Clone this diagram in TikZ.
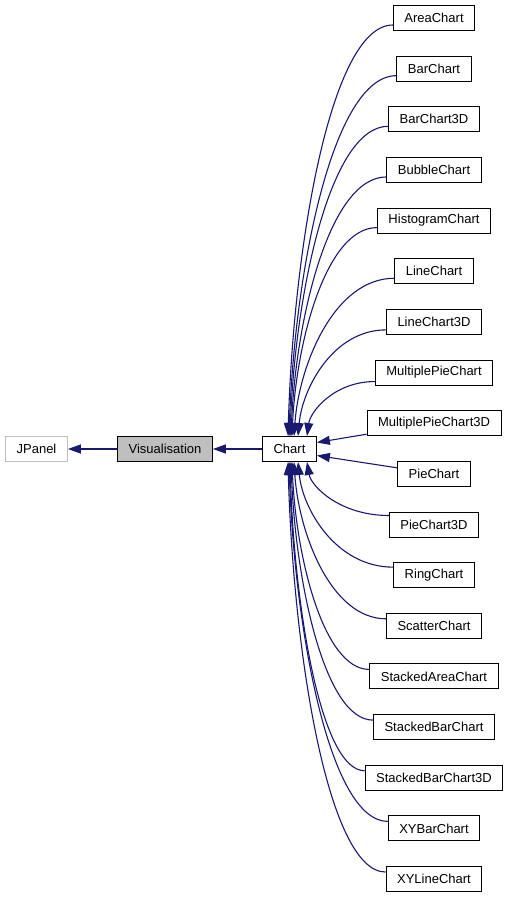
\documentclass[tikz,border=0pt]{standalone}
\usepackage{fontspec}
\setmainfont{Liberation Sans}
\usetikzlibrary{arrows.meta,calc}
\definecolor{edgeblue}{HTML}{191970}
\definecolor{boxgray}{HTML}{BFBFBF}
\newcommand\clsedge[4]{%
  \draw[edge] let \p1=([yshift=#3]#1.west), \p2=([xshift=#2]chart.#4) in
    (\p1) .. controls ({\x1-0.6*(\x1-\x2)},\y1) and ({\x2+0.05*(\x1-\x2)},{\y2+0.45*(\y1-\y2)}) .. (\p2);}
\begin{document}
\begin{tikzpicture}[x=1pt,y=1pt,
  cls/.style={draw=black,line width=1pt,minimum height=25pt,inner xsep=11pt,inner ysep=0pt,
    font=\fontsize{13}{15}\selectfont,fill=white},
  edge/.style={draw=edgeblue,line width=1.1pt,-{Triangle[length=13pt,width=9pt]}},
]
\useasboundingbox (0,0) rectangle (509,-899);
\node[cls,draw=boxgray] (jpanel) at (36.5,-449) {JPanel};
\node[cls,fill=boxgray] (vis) at (165,-449) {Visualisation};
\node[cls] (chart) at (289.5,-449) {Chart};
\foreach \n/\t [count=\i from 0] in {area/AreaChart,bar/BarChart,bar3d/BarChart3D,bubble/BubbleChart,
  hist/HistogramChart,line/LineChart,line3d/LineChart3D,mpc/MultiplePieChart,mpc3d/MultiplePieChart3D,
  pie/PieChart,pie3d/PieChart3D,ring/RingChart,scatter/ScatterChart,sarea/StackedAreaChart,
  sbar/StackedBarChart,sbar3d/StackedBarChart3D,xybar/XYBarChart,xyline/XYLineChart}
  \node[cls] (\n) at (434,{-18-50.65*\i}) {\t};
\draw[edge] (vis.west) -- (jpanel.east);
\draw[edge] (chart.west) -- (vis.east);
\clsedge{area}{-1.5pt}{-7pt}{north}
\clsedge{bar}{-0.5pt}{-7pt}{north}
\clsedge{bar3d}{0.5pt}{-7pt}{north}
\clsedge{bubble}{1.5pt}{-7pt}{north}
\clsedge{hist}{2.5pt}{-7pt}{north}
\clsedge{line}{4.5pt}{-7pt}{north}
\clsedge{line3d}{8.5pt}{-8pt}{north}
\clsedge{mpc}{17.5pt}{-9pt}{north}
\draw[edge] ([yshift=2pt]mpc3d.south west) -- ([yshift=6.5pt]chart.east);
\draw[edge] ([yshift=6pt]pie.west) -- ([yshift=-6.5pt]chart.east);
\clsedge{pie3d}{17.5pt}{9pt}{south}
\clsedge{ring}{8.5pt}{8pt}{south}
\clsedge{scatter}{4.5pt}{7pt}{south}
\clsedge{sarea}{2.5pt}{7pt}{south}
\clsedge{sbar}{1.5pt}{7pt}{south}
\clsedge{sbar3d}{0.5pt}{7pt}{south}
\clsedge{xybar}{-0.5pt}{7pt}{south}
\clsedge{xyline}{-1.5pt}{7pt}{south}
\end{tikzpicture}
\end{document}
